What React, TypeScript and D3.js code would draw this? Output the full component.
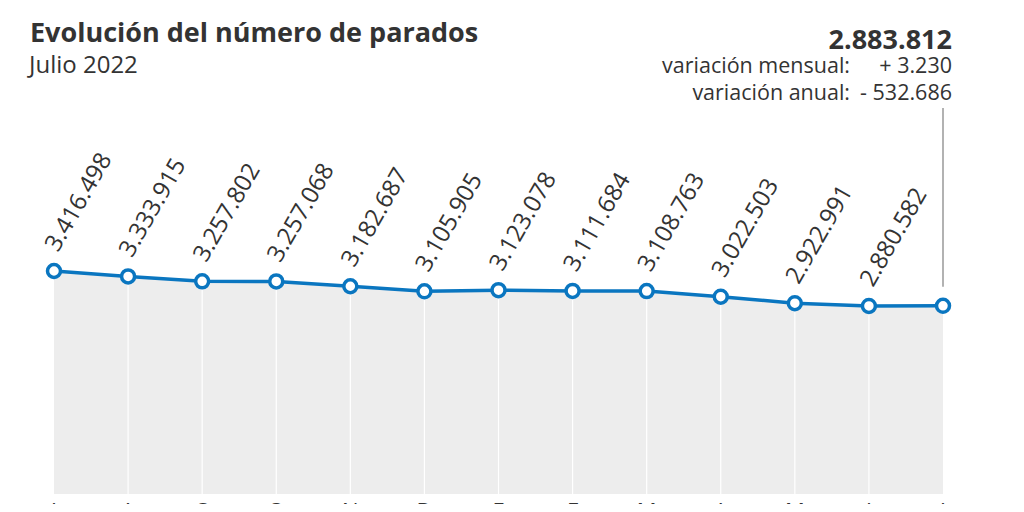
import React from 'react'
import { scaleLinear, scalePoint, line, area, formatLocale } from 'd3'

const months = ['J', 'A', 'S', 'O', 'N', 'D', 'E', 'F', 'M', 'A', 'M', 'J', 'J']
const monthKeys = ['jul21', 'ago', 'sep', 'oct', 'nov', 'dic', 'ene', 'feb', 'mar', 'abr', 'may', 'jun', 'jul22']
const parados = [
  3416498, 3333915, 3257802, 3257068, 3182687, 3105905, 3123078, 3111684, 3108763, 3022503,
  2922991, 2880582, 2883812,
]
const titulo = 'Evolución del número de parados'
const subtitulo = 'Julio 2022'
const varMensual = '+ 3.230'
const varAnual = '- 532.686'

const es = formatLocale({ decimal: ',', thousands: '.', grouping: [3], currency: ['', '€'] })
const fmt = es.format(',d')

const W = 1024
const H = 512
const font = '"Open Sans", "Noto Sans", sans-serif'
const textColor = '#333333'
const blue = '#0a76c0'

export default function App() {
  const x = scalePoint<string>().domain(monthKeys).range([54, 943])
  const y = scaleLinear().domain([0, 3416498]).range([494, 271])

  const pts = parados.map((v, i) => ({ k: monthKeys[i], v }))
  const linePath = line<{ k: string; v: number }>()
    .x((d) => x(d.k)!)
    .y((d) => y(d.v))(pts)
  const areaPath = area<{ k: string; v: number }>()
    .x((d) => x(d.k)!)
    .y0(y(0))
    .y1((d) => y(d.v))(pts)

  const last = pts[pts.length - 1]

  return (
    <div style={{ margin: -8 }}>
      <svg width={W} height={H} style={{ display: 'block', fontFamily: font }}>
        <rect width={W} height={H} fill="#ffffff" />
        <path d={areaPath!} fill="#ededed" />
        {/* white grid lines */}
        {pts.slice(1, -1).map((d) => (
          <line key={d.k} x1={x(d.k)} x2={x(d.k)} y1={y(d.v)} y2={y(0)} stroke="#ffffff" strokeWidth={1.2} />
        ))}
        {/* marker line for last value */}
        <line x1={x(last.k)} x2={x(last.k)} y1={108} y2={y(last.v) - 19} stroke="#999999" strokeWidth={1.5} />
        <path d={linePath!} fill="none" stroke={blue} strokeWidth={3.5} strokeLinejoin="round" />
        {pts.map((d) => (
          <circle key={d.k} cx={x(d.k)} cy={y(d.v)} r={6.5} fill="#ffffff" stroke={blue} strokeWidth={3.5} />
        ))}
        {pts.slice(0, -1).map((d) => (
          <text
            key={d.k}
            transform={`translate(${x(d.k)! + 4},${y(d.v) - 18}) rotate(-60)`}
            fontSize={24}
            fill={textColor}
          >
            {fmt(d.v)}
          </text>
        ))}
        {months.map((m, i) => (
          <text key={i} x={x(monthKeys[i])} y={519} textAnchor="middle" fontSize={22} fill={textColor}>
            {m}
          </text>
        ))}
        <text x={30} y={42} fontSize={27} fontWeight={700} fill={textColor}>
          {titulo}
        </text>
        <text x={29} y={73} fontSize={24} fill={textColor}>
          {subtitulo}
        </text>
        <text x={952} y={49} textAnchor="end" fontSize={27} fontWeight={700} fill={textColor}>
          {fmt(last.v)}
        </text>
        <text x={850} y={73} textAnchor="end" fontSize={21.5} fill={textColor}>
          variación mensual:
        </text>
        <text x={952} y={73} textAnchor="end" fontSize={21.5} fill={textColor}>
          {varMensual}
        </text>
        <text x={850} y={100} textAnchor="end" fontSize={21.5} fill={textColor}>
          variación anual:
        </text>
        <text x={952} y={100} textAnchor="end" fontSize={21.5} fill={textColor}>
          {varAnual}
        </text>
      </svg>
    </div>
  )
}
